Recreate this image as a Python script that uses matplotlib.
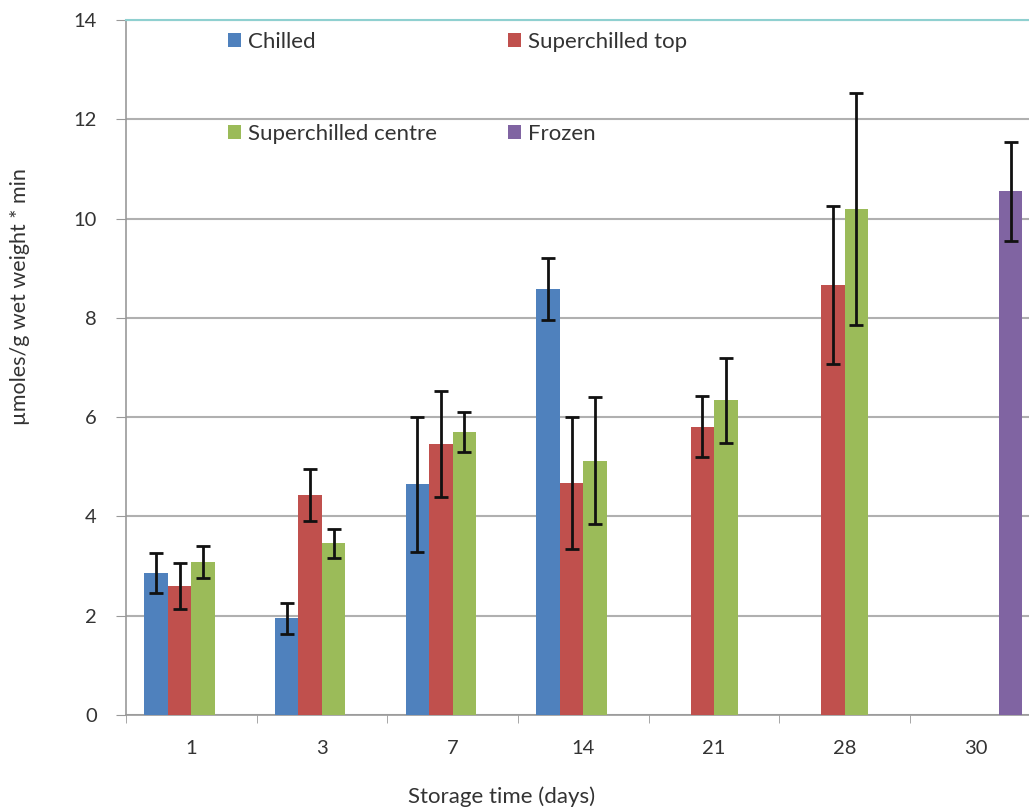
import numpy as np
import matplotlib.pyplot as plt
from matplotlib.ticker import FixedLocator

# -------------------------------------------------------------
# Dados
days = ["1", "3", "7", "14", "21", "28", "30"]

chilled = [2.86, 1.95, 4.65, 8.58, np.nan, np.nan, np.nan]
chilled_err = [0.40, 0.31, 1.36, 0.63, np.nan, np.nan, np.nan]

sc_top = [2.60, 4.43, 5.46, 4.67, 5.81, 8.67, np.nan]
sc_top_err = [0.46, 0.53, 1.07, 1.33, 0.62, 1.59, np.nan]

sc_centre = [3.08, 3.46, 5.70, 5.12, 6.34, 10.19, np.nan]
sc_centre_err = [0.32, 0.29, 0.40, 1.28, 0.86, 2.34, np.nan]

frozen = [np.nan, np.nan, np.nan, np.nan, np.nan, np.nan, 10.55]
frozen_err = [np.nan, np.nan, np.nan, np.nan, np.nan, np.nan, 1.00]

series = [
    ("Chilled", chilled, chilled_err, "#4F81BD"),
    ("Superchilled top", sc_top, sc_top_err, "#C0504D"),
    ("Superchilled centre", sc_centre, sc_centre_err, "#9BBB59"),
    ("Frozen", frozen, frozen_err, "#8064A2"),
]

# -------------------------------------------------------------
# Plot
plt.rcParams["font.family"] = ["Lato", "DejaVu Sans"]

fig = plt.figure(figsize=(10.29, 8.11), dpi=100)
ax = fig.add_axes([0.1224, 0.1184, 0.889, 0.8569])

x = np.arange(len(days))
w = 0.18
handles = {}
for i, (name, vals, errs, color) in enumerate(series):
    pos = x + (i - 1.5) * w
    b = ax.bar(pos, vals, w, color=color, zorder=3, label=name)
    ax.errorbar(pos, vals, yerr=errs, fmt="none", ecolor="#111111",
                elinewidth=2, capsize=5, capthick=2, zorder=4)
    handles[name] = b

ax.set_xlim(-0.5, len(days) - 0.5)
ax.set_ylim(0, 14)
ax.set_yticks(np.arange(0, 15, 2))
ax.set_xticks(x)
ax.set_xticklabels(days)
ax.xaxis.set_minor_locator(FixedLocator(np.arange(-0.5, len(days), 1)))
ax.tick_params(axis="x", which="major", length=0, pad=18, labelsize=14.5, colors="#333333")
ax.tick_params(axis="x", which="minor", length=6, color="#999999")
ax.tick_params(axis="y", length=7, color="#999999", labelsize=14.5, pad=14, labelcolor="#333333")

ax.grid(axis="y", color="#b0b0b0", linewidth=1.5, zorder=0)
ax.spines["right"].set_visible(False)
ax.spines["top"].set_color("#8fd0d0")
ax.spines["top"].set_linewidth(1.5)
for s in ["left", "bottom"]:
    ax.spines[s].set_color("#999999")
    ax.spines[s].set_linewidth(1.2)

order = ["Chilled", "Superchilled centre", "Superchilled top", "Frozen"]
ax.legend([handles[n] for n in order], order, ncol=2, loc="upper left",
          bbox_to_anchor=((228 - 126) / 915, (715 - 32) / 695),
          frameon=False, fontsize=16, borderpad=0, borderaxespad=0,
          handlelength=0.6, handleheight=0.6, handletextpad=0.3,
          labelspacing=3.22, columnspacing=3.2, labelcolor="#333333")

fig.text(20 / 1029, 1 - 297 / 811, "µmoles/g wet weight * min", rotation=90,
         ha="center", va="center", fontsize=15.5, color="#333333")
fig.text(502 / 1029, 1 - 797 / 811, "Storage time (days)",
         ha="center", va="center", fontsize=16, color="#333333")

fig.savefig("out.png", dpi=100)
plt.close()
